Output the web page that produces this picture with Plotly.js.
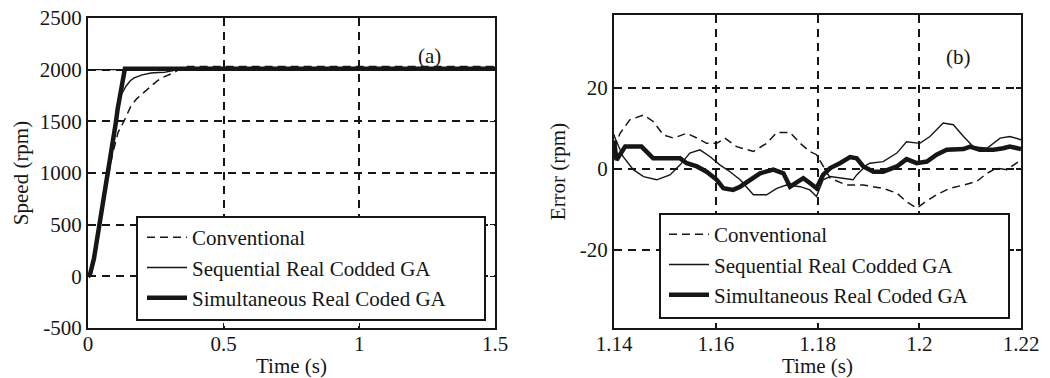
<!DOCTYPE html>
<html>
<head>
<meta charset="utf-8">
<script src="https://cdn.plot.ly/plotly-3.0.1.min.js"></script>
<style>html,body{margin:0;padding:0;background:#fff;}#chart{width:1050px;height:378px;}</style>
</head>
<body>
<div id="chart"></div>
<script>
// ---------- Panel (a): speed response ----------
const seriesNames = ["Conventional", "Sequential Real Codded GA", "Simultaneous Real Coded GA"];

const speedRefT = [0, 1.5];
const speedRefV = [2000, 2000];

const convT = [0, 0.007, 0.022, 0.041, 0.06, 0.074, 0.09, 0.111, 0.133, 0.148, 0.158, 0.18, 0.205, 0.23, 0.253, 0.275, 0.296, 0.32, 0.35, 1.5];
const convV = [0, 10, 165, 470, 760, 960, 1180, 1394, 1503, 1587, 1647, 1720, 1778, 1840, 1887, 1925, 1952, 1975, 2030, 2030];

const seqT = [0, 0.005, 0.02, 0.03, 0.04, 0.052, 0.062, 0.073, 0.08, 0.093, 0.102, 0.109, 0.119, 0.127, 0.14, 0.155, 0.17, 0.2, 0.232, 0.26, 0.281, 0.31, 0.34, 1.5];
const seqV = [0, 20, 190, 350, 510, 670, 830, 1010, 1150, 1310, 1500, 1610, 1740, 1776, 1840, 1890, 1920, 1950, 1968, 1972, 1974, 1990, 2005, 2005];

const simT = [0, 0.007, 0.022, 0.032, 0.041, 0.053, 0.063, 0.074, 0.081, 0.094, 0.103, 0.109, 0.119, 0.127, 0.133, 0.136, 1.5];
const simV = [0, 13, 173, 333, 494, 654, 814, 997, 1135, 1295, 1494, 1615, 1776, 1904, 1984, 2010, 2010];

// ---------- Panel (b): speed error ----------
const errConvT = [1.14, 1.1412, 1.1431, 1.1458, 1.1477, 1.1497, 1.1517, 1.1543, 1.1563, 1.1582, 1.1602, 1.1618, 1.1641, 1.1674, 1.17, 1.172, 1.1746, 1.1766, 1.1785, 1.1798, 1.1825, 1.1857, 1.189, 1.1910, 1.1929, 1.1956, 1.1975, 1.1995, 1.2008, 1.2034, 1.206, 1.2087, 1.2113, 1.2133, 1.2152, 1.2172, 1.2192, 1.22];
const errConvV = [5, 8.8, 12.1, 13.3, 11.7, 8.4, 7.6, 8.8, 7.6, 6.3, 6.3, 7.6, 5.5, 4.3, 6.3, 9.0, 9.0, 6.3, 4.3, 3.5, -2.3, -4.0, -4.0, -4.4, -4.8, -6.0, -8.1, -9.7, -8.5, -6.4, -4.8, -4.0, -3.1, -1.1, 0.2, -0.2, 1.4, 2.2];

const errSeqT = [1.14, 1.1402, 1.1418, 1.1438, 1.1458, 1.1484, 1.151, 1.153, 1.1549, 1.1569, 1.1589, 1.1608, 1.1628, 1.1648, 1.1674, 1.17, 1.172, 1.1739, 1.1766, 1.1785, 1.1798, 1.1811, 1.1825, 1.1844, 1.187, 1.1877, 1.1897, 1.1903, 1.1929, 1.1956, 1.1975, 1.2001, 1.2021, 1.2047, 1.2067, 1.2087, 1.2106, 1.2133, 1.2159, 1.2178, 1.22];
const errSeqV = [8.5, 7.6, 3.0, -0.2, -1.9, -2.7, -1.5, 1.0, 3.9, 4.7, 3.0, 1.0, -0.7, -2.7, -6.4, -6.4, -4.8, -4.0, -4.4, -5.2, -6.8, -2.7, -1.9, -2.3, -2.7, -1.5, 1.0, 1.4, 1.8, 3.9, 6.7, 6.3, 8.0, 11.3, 10.9, 8.0, 5.5, 5.1, 7.6, 8.0, 7.2];

const errSimT = [1.14, 1.1405, 1.1422, 1.1454, 1.1477, 1.1517, 1.153, 1.1543, 1.1563, 1.1582, 1.1602, 1.1615, 1.1634, 1.1648, 1.1667, 1.1687, 1.1713, 1.1733, 1.1746, 1.1759, 1.1772, 1.1785, 1.1798, 1.1811, 1.1825, 1.1844, 1.1864, 1.1877, 1.189, 1.191, 1.1929, 1.1956, 1.1975, 1.1995, 1.2015, 1.2034, 1.2054, 1.2087, 1.21, 1.2119, 1.2146, 1.2165, 1.2178, 1.22];
const errSimV = [7.0, 2.2, 5.5, 5.5, 2.6, 2.6, 2.6, 1.4, 0.6, -0.7, -2.7, -4.8, -5.2, -4.4, -2.7, -1.1, -0.2, -1.1, -4.4, -3.5, -2.3, -3.5, -4.8, -1.5, 0.2, 1.4, 2.9, 2.6, 0.6, -0.7, -0.7, 0.6, 2.4, 1.4, 1.8, 3.5, 4.7, 4.9, 5.5, 4.7, 4.7, 5.1, 5.5, 4.9];

// ---------- Axis ticks ----------
const speedTickVals = [-500, 0, 500, 1000, 1500, 2000, 2500];
const speedTickText = ["-500", "0", "500", "1000", "1500", "2000", "2500"];
const timeATickVals = [0, 0.5, 1, 1.5];
const timeATickText = ["0", "0.5", "1", "1.5"];
const errTickVals = [-20, 0, 20];
const errTickText = ["-20", "0", "20"];
const timeBTickVals = [1.14, 1.16, 1.18, 1.2, 1.22];
const timeBTickText = ["1.14", "1.16", "1.18", "1.2", "1.22"];

const INK = "#161616";
const FONT = "Liberation Serif";
const dashStyle = "8px,5px";

const traces = [
  {x: speedRefT, y: speedRefV, xaxis: "x", yaxis: "y", mode: "lines", line: {color: INK, width: 1.3}, showlegend: false, hoverinfo: "skip"},
  {x: convT, y: convV, xaxis: "x", yaxis: "y", mode: "lines", name: seriesNames[0], legend: "legend", legendgroup: "a1", line: {color: INK, width: 1.5, dash: dashStyle}},
  {x: seqT, y: seqV, xaxis: "x", yaxis: "y", mode: "lines", name: seriesNames[1], legend: "legend", legendgroup: "a2", line: {color: INK, width: 1.4}},
  {x: simT, y: simV, xaxis: "x", yaxis: "y", mode: "lines", name: seriesNames[2], legend: "legend", legendgroup: "a3", line: {color: INK, width: 4.5}},
  {x: errConvT, y: errConvV, xaxis: "x2", yaxis: "y2", mode: "lines", name: seriesNames[0], legend: "legend2", legendgroup: "b1", line: {color: INK, width: 1.5, dash: dashStyle}},
  {x: errSeqT, y: errSeqV, xaxis: "x2", yaxis: "y2", mode: "lines", name: seriesNames[1], legend: "legend2", legendgroup: "b2", line: {color: INK, width: 1.4}},
  {x: errSimT, y: errSimV, xaxis: "x2", yaxis: "y2", mode: "lines", name: seriesNames[2], legend: "legend2", legendgroup: "b3", line: {color: INK, width: 4.5}}
];

const W = 1050, H = 378;
function axisCommon() {
  return {
    showline: true, linecolor: INK, linewidth: 2, mirror: "ticks",
    ticks: "inside", ticklen: 5, tickwidth: 1.5, tickcolor: INK,
    showgrid: true, gridcolor: INK, gridwidth: 2, griddash: "8px,6px",
    zeroline: false, tickmode: "array",
    tickfont: {family: FONT, size: 21, color: INK},
    title: {font: {family: FONT, size: 21, color: INK}}
  };
}

const legendCommon = {
  bgcolor: "rgba(0,0,0,0)", borderwidth: 0,
  font: {family: FONT, size: 21, color: INK},
  xanchor: "left", yanchor: "top", traceorder: "grouped", tracegroupgap: 0,
  itemwidth: 40
};

// legend frames (pixel boxes of the reference legends)
function legendBox(x0, y0, x1, y1) {
  return {type: "rect", xref: "paper", yref: "paper", layer: "above",
    x0: x0 / W, x1: x1 / W, y0: 1 - y1 / H, y1: 1 - y0 / H,
    fillcolor: "#ffffff", line: {color: INK, width: 2}};
}

const layout = {
  width: W, height: H,
  margin: {l: 0, r: 0, t: 0, b: 0},
  paper_bgcolor: "#ffffff", plot_bgcolor: "#ffffff",
  showlegend: true,
  xaxis: Object.assign(axisCommon(), {domain: [88 / W, 495 / W], range: [0, 1.5], tickvals: timeATickVals, ticktext: timeATickText, anchor: "y", ticklabelstandoff: -4}),
  yaxis: Object.assign(axisCommon(), {domain: [1 - 328 / H, 1 - 18 / H], range: [-500, 2500], tickvals: speedTickVals, ticktext: speedTickText, anchor: "x"}),
  xaxis2: Object.assign(axisCommon(), {domain: [614 / W, 1021 / W], range: [1.14, 1.22], tickvals: timeBTickVals, ticktext: timeBTickText, anchor: "y2", ticklabelstandoff: -4}),
  yaxis2: Object.assign(axisCommon(), {domain: [1 - 328 / H, 1 - 15 / H], range: [-39.3, 38], tickvals: errTickVals, ticktext: errTickText, anchor: "x2"}),
  legend: Object.assign({}, legendCommon, {x: 142 / W, y: 1 - 217 / H}),
  legend2: Object.assign({}, legendCommon, {x: 664 / W, y: 1 - 214 / H}),
  shapes: [legendBox(137, 217, 485, 320), legendBox(660, 214, 1009, 318)],
  annotations: [
    {text: "(a)", xref: "paper", yref: "paper", x: 429 / W, y: 1 - 42 / H, showarrow: false, font: {family: FONT, size: 21, color: INK}},
    {text: "(b)", xref: "paper", yref: "paper", x: 973 / W, y: 1 - 43 / H, showarrow: false, font: {family: FONT, size: 21, color: INK}}
  ]
};
layout.xaxis.title.text = "Time (s)";
layout.xaxis2.title.text = "Time (s)";
layout.yaxis.title.text = "Speed (rpm)";
layout.yaxis2.title.text = "Error (rpm)";
layout.xaxis.title.standoff = 3;
layout.xaxis2.title.standoff = 3;
layout.yaxis.title.standoff = 5;
layout.yaxis2.title.standoff = 8;

Plotly.newPlot("chart", traces, layout, {displayModeBar: false, staticPlot: true});
</script>
</body>
</html>
